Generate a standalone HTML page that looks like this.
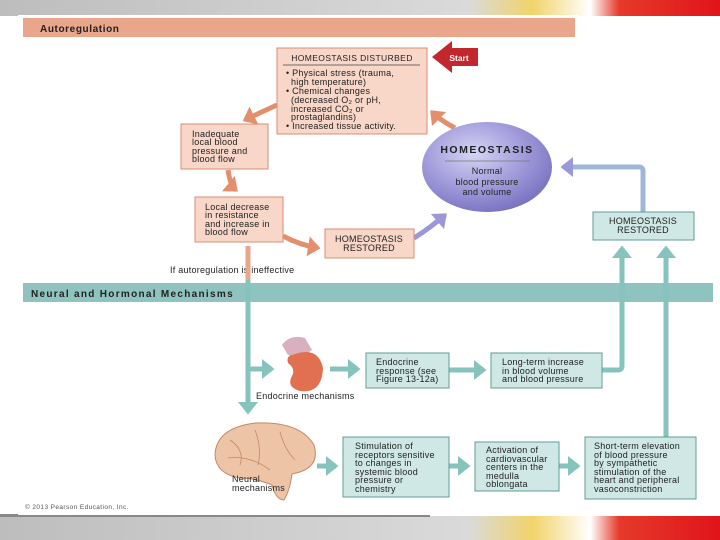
<!DOCTYPE html>
<html><head><style>
body{margin:0;width:720px;height:540px;overflow:hidden;background:#fff}
svg{display:block}
text{font-family:"Liberation Sans",sans-serif;fill:#222}
.b{font-size:9px;letter-spacing:0.25px}
</style></head><body>
<svg width="720" height="540" viewBox="0 0 720 540">
<defs>
<linearGradient id="tg" x1="0" x2="1" y1="0" y2="0">
<stop offset="0" stop-color="#bdbdbd"/><stop offset="0.65" stop-color="#dadada"/><stop offset="0.74" stop-color="#f2d36a"/><stop offset="0.82" stop-color="#fff"/><stop offset="0.86" stop-color="#e53a2a"/><stop offset="1" stop-color="#e0141a"/></linearGradient>
<radialGradient id="cg" cx="0.4" cy="0.35" r="0.7"><stop offset="0" stop-color="#d6d4f4"/><stop offset="0.6" stop-color="#9c96d8"/><stop offset="1" stop-color="#7670bf"/></radialGradient>
<marker id="ta" markerWidth="4" markerHeight="4" refX="2" refY="2" orient="auto" markerUnits="strokeWidth"><path d="M0,0 L2.5,2 L0,4 z" fill="#86c3bd"/></marker>
<marker id="sa" markerWidth="4" markerHeight="4" refX="2" refY="2" orient="auto" markerUnits="strokeWidth"><path d="M0,0 L2.5,2 L0,4 z" fill="#e38f6e"/></marker>
<marker id="pa" markerWidth="4" markerHeight="4" refX="2" refY="2" orient="auto" markerUnits="strokeWidth"><path d="M0,0 L2.5,2 L0,4 z" fill="#9a98d6"/></marker>
</defs>
<rect x="0" y="0" width="720" height="16" fill="url(#tg)"/>
<rect x="0" y="516" width="720" height="24" fill="url(#tg)"/>
<rect x="0" y="514" width="430" height="3" fill="#888"/>
<rect x="18" y="15" width="560" height="500" fill="#fff"/>
<rect x="23" y="18" width="552" height="19" fill="#e9a68a"/>
<text x="40" y="32" font-size="10" font-weight="bold" letter-spacing="0.6">Autoregulation</text>
<rect x="23" y="283" width="690" height="19" fill="#8fc3bf"/>
<text x="31" y="297" font-size="10" font-weight="bold" letter-spacing="1.3">Neural and Hormonal Mechanisms</text>

<g stroke="#e38f6e" stroke-width="5" fill="none" marker-end="url(#sa)">
<path d="M277,105 Q255,115 245,120"/>
<path d="M228,170 Q230,185 236,190"/>
<path d="M283,236 Q300,245 318,248"/>
</g>
<g stroke="#9a98d6" stroke-width="5" fill="none" marker-end="url(#pa)">
<path d="M414,238 Q430,228 445,215"/>
</g>
<path d="M455,128 Q440,120 432,112" stroke="#e38f6e" stroke-width="5" fill="none" marker-end="url(#sa)"/>
<ellipse cx="487" cy="167" rx="65" ry="45" fill="url(#cg)"/>
<text x="487" y="153" font-size="10.5" font-weight="bold" letter-spacing="1.5" text-anchor="middle">HOMEOSTASIS</text>
<line x1="445" y1="161" x2="530" y2="161" stroke="#777" stroke-width="0.7"/>
<g class="b" text-anchor="middle">
<text x="487" y="174">Normal</text>
<text x="487" y="185">blood pressure</text>
<text x="487" y="195">and volume</text>
</g>

<g fill="#f8d6c8" stroke="#d98e70" stroke-width="1">
<rect x="277" y="48" width="150" height="86"/>
<rect x="181" y="124" width="87" height="45"/>
<rect x="195" y="197" width="88" height="45"/>
<rect x="325" y="229" width="89" height="29"/>
</g>
<text x="352" y="61" font-size="8.5" letter-spacing="0.4" text-anchor="middle">HOMEOSTASIS DISTURBED</text>
<line x1="283" y1="65" x2="420" y2="65" stroke="#444" stroke-width="0.7"/>
<g class="b">
<text x="286" y="76">• Physical stress (trauma,</text>
<text x="291" y="85">high temperature)</text>
<text x="286" y="94">• Chemical changes</text>
<text x="291" y="103">(decreased O₂ or pH,</text>
<text x="291" y="112">increased CO₂ or</text>
<text x="291" y="120">prostaglandins)</text>
<text x="286" y="129">• Increased tissue activity.</text>
<text x="192" y="137">Inadequate</text><text x="192" y="145">local blood</text><text x="192" y="154">pressure and</text><text x="192" y="162">blood flow</text>
<text x="205" y="210">Local decrease</text><text x="205" y="218">in resistance</text><text x="205" y="227">and increase in</text><text x="205" y="235">blood flow</text>
<text x="369" y="242" text-anchor="middle">HOMEOSTASIS</text><text x="369" y="251" text-anchor="middle">RESTORED</text>
</g>
<path d="M432,57 L452,41 L452,48 L478,48 L478,66 L452,66 L452,73 Z" fill="#c1272d"/>
<text x="459" y="61" font-size="8.5" font-weight="bold" style="fill:#fff" text-anchor="middle">Start</text>
<text x="170" y="273" class="b">If autoregulation is ineffective</text>

<g stroke="#86c3bd" stroke-width="5" fill="none">
<path d="M248,246 L248,412" marker-end="url(#ta)"/>
<path d="M248,369 L272,369" marker-end="url(#ta)"/>
<path d="M330,369 L358,369" marker-end="url(#ta)"/>
<path d="M449,370 L484,370" marker-end="url(#ta)"/>
<path d="M602,370 L618,370 Q622,370 622,366 L622,248" marker-end="url(#ta)"/>
<path d="M666,438 L666,248" marker-end="url(#ta)"/>
<path d="M317,466 L336,466" marker-end="url(#ta)"/>
<path d="M449,466 L468,466" marker-end="url(#ta)"/>
<path d="M559,466 L578,466" marker-end="url(#ta)"/>
</g>
<path d="M248,246 L248,280" stroke="#e9a68a" stroke-width="5"/>
<path d="M643,212 L643,171 Q643,167 639,167 L563,167" stroke="#9fb6d6" stroke-width="5" fill="none" marker-end="url(#pa)"/>

<g fill="#cfe8e5" stroke="#5f9c96" stroke-width="1">
<rect x="593" y="212" width="101" height="28"/>
<rect x="366" y="353" width="83" height="35"/>
<rect x="491" y="353" width="111" height="35"/>
<rect x="343" y="437" width="106" height="60"/>
<rect x="475" y="442" width="84" height="49"/>
<rect x="585" y="437" width="111" height="62"/>
</g>
<path d="M282,345 Q290,334 305,338 L312,350 L300,358 L288,355 Z" fill="#d8b0c0"/>
<path d="M292,355 Q318,345 323,368 Q322,394 300,391 Q286,387 292,376 Q296,369 288,363 Q286,356 292,355 Z" fill="#e0704f"/>
<path d="M215,455 Q216,428 255,423 Q300,421 314,445 Q320,465 300,472 L292,474 Q290,490 284,500 Q276,500 272,485 Q255,478 240,478 Q216,474 215,455 Z" fill="#edc4a6" stroke="#c48866" stroke-width="1"/>
<g stroke="#c48866" stroke-width="0.8" fill="none">
<path d="M230,440 Q245,450 240,465"/><path d="M255,430 Q262,448 258,465"/><path d="M280,432 Q285,450 295,460"/><path d="M228,458 Q250,455 270,470"/>
</g>
<g class="b">
<text x="643" y="224" text-anchor="middle">HOMEOSTASIS</text><text x="643" y="233" text-anchor="middle">RESTORED</text>
<text x="376" y="365">Endocrine</text><text x="376" y="374">response (see</text><text x="376" y="382">Figure 13-12a)</text>
<text x="502" y="365">Long-term increase</text><text x="502" y="374">in blood volume</text><text x="502" y="382">and blood pressure</text>
<text x="355" y="449">Stimulation of</text><text x="355" y="458">receptors sensitive</text><text x="355" y="466">to changes in</text><text x="355" y="475">systemic blood</text><text x="355" y="483">pressure or</text><text x="355" y="492">chemistry</text>
<text x="486" y="453">Activation of</text><text x="486" y="462">cardiovascular</text><text x="486" y="470">centers in the</text><text x="486" y="479">medulla</text><text x="486" y="487">oblongata</text>
<text x="594" y="449">Short-term elevation</text><text x="594" y="458">of blood pressure</text><text x="594" y="466">by sympathetic</text><text x="594" y="475">stimulation of the</text><text x="594" y="483">heart and peripheral</text><text x="594" y="492">vasoconstriction</text>
<text x="256" y="399">Endocrine mechanisms</text>
<text x="232" y="482">Neural</text><text x="232" y="491">mechanisms</text>
</g>
<text x="25" y="509" font-size="6.5" letter-spacing="0.4" style="fill:#555">© 2013 Pearson Education, Inc.</text>
</svg>
</body></html>
